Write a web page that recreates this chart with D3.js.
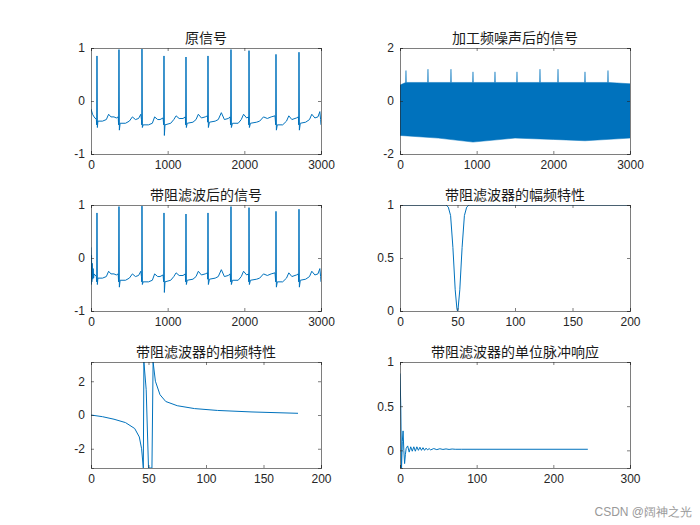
<!DOCTYPE html>
<html>
<head>
<meta charset="UTF-8">
<script src="https://d3js.org/d3.v7.min.js"></script>
<style>
  body { margin: 0; background: #fff; }
  text { font-family: "Liberation Sans", Arial, sans-serif; font-size: 12px; fill: #262626; }
  .title { font-family: "Noto Sans CJK SC", sans-serif; font-size: 14px; fill: #1a1a1a; }
</style>
</head>
<body>
<div id="fig"></div>
<script>
// 原信号 (sparse vertices)
const ecg = [[0,-0.15],[20,-0.25],[40,-0.3],[70,-0.35],[74,-0.45],[78,0.85],[83,-0.5],[90,-0.38],[150,-0.38],[200,-0.35],[230,-0.25],[260,-0.3],[300,-0.3],[330,-0.32],[355,-0.3],
  [360,-0.45],[365,0.97],[370,-0.55],[380,-0.42],[450,-0.42],[500,-0.38],[540,-0.3],[580,-0.35],[620,-0.33],[650,-0.25],
  [658,-0.35],[662,-0.45],[665,0.98],[670,-0.5],[680,-0.45],[750,-0.45],[800,-0.42],[830,-0.3],[870,-0.35],[900,-0.35],[940,-0.32],
  [948,-0.45],[952,0.85],[957,-0.65],[965,-0.45],[1040,-0.42],[1080,-0.35],[1110,-0.28],[1150,-0.33],[1200,-0.33],[1230,-0.3],
  [1235,-0.45],[1239,0.83],[1244,-0.5],[1255,-0.42],[1330,-0.4],[1370,-0.35],[1400,-0.25],[1440,-0.32],[1490,-0.3],[1520,-0.28],
  [1522,-0.4],[1526,0.85],[1531,-0.5],[1545,-0.4],[1620,-0.38],[1660,-0.35],[1700,-0.22],[1740,-0.35],[1790,-0.33],[1815,-0.3],
  [1822,-0.45],[1826,0.97],[1831,-0.5],[1845,-0.42],[1920,-0.42],[1960,-0.35],[1990,-0.25],[2030,-0.32],[2055,-0.3],
  [2058,-0.45],[2061,0.95],[2066,-0.5],[2080,-0.42],[2160,-0.4],[2200,-0.38],[2250,-0.3],[2300,-0.33],[2350,-0.3],[2400,-0.28],
  [2409,-0.45],[2413,0.88],[2418,-0.55],[2430,-0.45],[2500,-0.45],[2550,-0.38],[2580,-0.28],[2620,-0.35],[2680,-0.32],[2705,-0.3],
  [2709,-0.45],[2713,0.92],[2718,-0.55],[2730,-0.42],[2800,-0.4],[2850,-0.35],[2880,-0.25],[2920,-0.32],[2960,-0.3],[2985,-0.2],[2995,-0.35],[3000,-0.45]];
// 带阻滤波后的信号: start transient
const filteredStart = [[0,0.2],[3,-0.5],[7,0.05],[11,-0.45],[16,-0.1],[22,-0.4],[28,-0.2],[34,-0.38]];
// 加工频噪声后的信号: envelope of the noise band
const noiseUpper = [[0,0.6],[74,0.7],[78,1.15],[82,0.7],[361,0.7],[365,1.2],[369,0.7],[661,0.7],[665,1.2],[669,0.7],[948,0.7],[952,1.1],[956,0.7],
  [1235,0.7],[1239,1.1],[1243,0.7],[1522,0.7],[1526,1.1],[1530,0.7],[1822,0.7],[1826,1.2],[1830,0.7],[2057,0.7],[2061,1.2],[2065,0.7],
  [2409,0.7],[2413,1.1],[2417,0.7],[2709,0.7],[2713,1.15],[2717,0.7],[3000,0.65]];
const noiseLower = [[0,-1.3],[500,-1.4],[952,-1.55],[1500,-1.4],[2000,-1.45],[2413,-1.5],[3000,-1.4]];
// 幅频特性
const magResp = [[0,1],[40,1],[42,0.98],[44,0.9],[46,0.6],[48,0.2],[49.5,0.02],[50,0],[50.5,0.02],[52,0.2],[54,0.6],[56,0.9],[58,0.98],[60,1],[200,1]];
// 相频特性
const phaseResp = [[0,0],[10,-0.1],[20,-0.25],[30,-0.45],[38,-0.8],[42,-1.3],[44,-2.0],[45.5,-3.14],[46,3.14],[48,1.5],[50,-3.14],[53,-3.14],[54,3.14],
  [56,2.0],[60,1.2],[65,0.8],[75,0.55],[90,0.38],[110,0.27],[140,0.18],[180,0.1]];
// 单位脉冲响应
const impulse = [[0,0.87],[1,0.5],[2,-0.2],[3,0.1],[4,0.22],[5,0.0],[6,-0.15],[7,-0.05],[8,0.02],[10,0.05],[12,-0.02],[14,0.04],[16,-0.01],[18,0.04],
  [20,-0.01],[22,0.04],[24,0.0],[26,0.035],[28,0.0],[30,0.03],[32,0.0],[34,0.025],[36,0.005],[38,0.02],[40,0.005],[44,0.02],[48,0.008],[52,0.018],
  [56,0.01],[60,0.016],[64,0.01],[68,0.015],[72,0.012],[80,0.012],[245,0.012]];

const titles = ["原信号","加工频噪声后的信号","带阻滤波后的信号","带阻滤波器的幅频特性","带阻滤波器的相频特性","带阻滤波器的单位脉冲响应"];
const xDomains = [[0,3000],[0,3000],[0,3000],[0,200],[0,200],[0,300]];
const yDomains = [[-1,1],[-2,2],[-1,1],[0,1],[-3.14,3.14],[-0.2,1]];
const xTicks = [[0,1000,2000,3000],[0,1000,2000,3000],[0,1000,2000,3000],[0,50,100,150,200],[0,50,100,150,200],[0,100,200,300]];
const yTicks = [[-1,0,1],[-2,0,2],[-1,0,1],[0,0.5,1],[-2,0,2],[0,0.5,1]];

const W = 700, H = 525, color = "#0072BD";
const cols = [91, 400], aw = 230, rows = [48, 205, 362], ah = 106;

const svg = d3.select("#fig").append("svg").attr("width", W).attr("height", H);

titles.forEach((t, i) => {
  const x0 = cols[i % 2], y0 = rows[Math.floor(i / 2)];
  const g = svg.append("g").attr("transform", `translate(${x0},${y0})`);
  const x = d3.scaleLinear().domain(xDomains[i]).range([0, aw]);
  const y = d3.scaleLinear().domain(yDomains[i]).range([ah, 0]);
  const defsId = "clip" + i;
  g.append("clipPath").attr("id", defsId).append("rect").attr("width", aw).attr("height", ah);
  const plot = g.append("g").attr("clip-path", `url(#${defsId})`);
  const line = d3.line().x(d => x(d[0])).y(d => y(d[1]));

  if (i === 0) plot.append("path").attr("d", line(ecg));
  if (i === 1) {
    const band = noiseUpper.concat(noiseLower.slice().reverse());
    plot.append("path").attr("d", line(band) + "Z").attr("fill", color).attr("stroke", color).attr("stroke-width", 0.5);
  }
  if (i === 2) plot.append("path").attr("d", line(filteredStart.concat(ecg.filter(d => d[0] >= 40))));
  if (i === 3) plot.append("path").attr("d", line(magResp));
  if (i === 4) plot.append("path").attr("d", line(phaseResp));
  if (i === 5) plot.append("path").attr("d", line(impulse));
  plot.selectAll("path").filter(function() { return !this.getAttribute("fill"); })
    .attr("fill", "none").attr("stroke", color).attr("stroke-width", 1);

  const xa = g.append("g").attr("transform", `translate(0,${ah})`)
    .call(d3.axisBottom(x).tickValues(xTicks[i]).tickSize(-3).tickPadding(6).tickFormat(d3.format("d")));
  const xt = g.append("g").call(d3.axisTop(x).tickValues(xTicks[i]).tickSize(-3).tickFormat(""));
  const ya = g.append("g").call(d3.axisLeft(y).tickValues(yTicks[i]).tickSize(-3).tickPadding(6).tickFormat(d => d));
  const yr = g.append("g").attr("transform", `translate(${aw},0)`).call(d3.axisRight(y).tickValues(yTicks[i]).tickSize(-3).tickFormat(""));
  [xa, xt, ya, yr].forEach(a => {
    a.selectAll("path, line").attr("stroke", "#262626").attr("stroke-width", 0.6);
    a.selectAll("text").attr("font-size", 12).attr("fill", "#262626")
      .attr("font-family", "'Liberation Sans', Arial, sans-serif");
  });
  g.append("text").attr("class", "title").attr("x", aw / 2).attr("y", -5)
    .attr("text-anchor", "middle").text(t);
});

svg.append("text").attr("x", 692).attr("y", 516).attr("text-anchor", "end")
  .attr("font-size", 11).style("fill", "#999").text("CSDN @阔神之光");
</script>
</body>
</html>
